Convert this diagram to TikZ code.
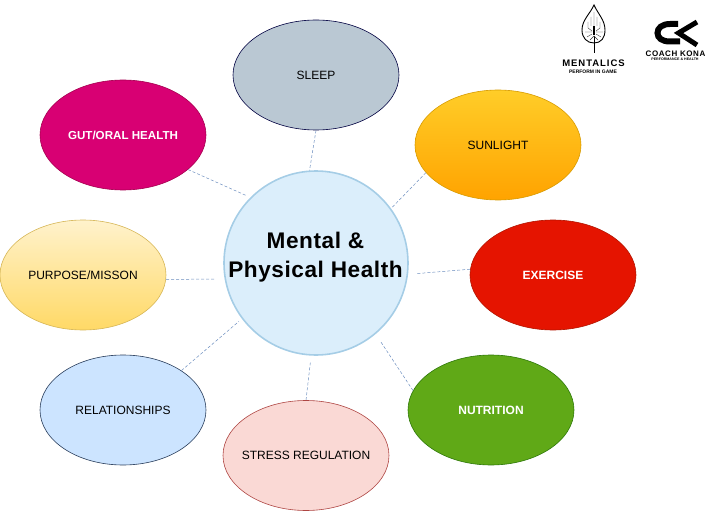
\documentclass[tikz,border=0pt]{standalone}
\usepackage{fontspec}
\setmainfont{Liberation Sans}
\newfontfamily\hubfamily[LetterSpace=2.5]{Liberation Sans}
\newfontfamily\logofamily[LetterSpace=10]{Liberation Sans}
\newfontfamily\coachfamily[LetterSpace=7]{Liberation Sans}
\usetikzlibrary{shapes.geometric}
\definecolor{linkblue}{HTML}{6C8EBF}
\definecolor{hubedge}{HTML}{A5CDE6}
\definecolor{hubfill}{HTML}{DBEEFB}
\tikzset{
  blob/.style={ellipse,draw,minimum width=166pt,minimum height=110pt,inner xsep=-30pt,inner ysep=0pt,line width=0.6pt,font=\fontsize{12}{14}\selectfont,text=black},
  whitelabel/.style={text=white,font=\fontsize{12}{14}\selectfont\bfseries},
  link/.style={draw=linkblue,densely dashed,line width=0.5pt},
  hubnode/.style={circle,draw=hubedge,fill=hubfill,minimum size=184pt,inner sep=0pt,line width=1.6pt},
  hubtext/.style={align=center,inner sep=0pt,font=\hubfamily\fontsize{22.6}{29}\selectfont\bfseries},
  logoline/.style={line width=0.9pt,draw=black},
  trace/.style={line width=0.4pt,draw=black!80},
}
\begin{document}
\begin{tikzpicture}[x=1pt,y=-1pt]
\useasboundingbox (0,0) rectangle (716,511);
\node[hubnode] (hub) at (316,263) {};
\node[hubtext] (hublabel) at (315.5,257) {Mental \&\\Physical Health};
\node[blob,draw=black!75!blue,fill={rgb,255:red,186;green,200;blue,211}] (sleep) at (316,75) {SLEEP};
\node[blob,draw={rgb,255:red,215;green,155;blue,0},top color={rgb,255:red,255;green,205;blue,40},bottom color={rgb,255:red,255;green,163;blue,0}] (sun) at (498,145) {SUNLIGHT};
\node[blob,draw={rgb,255:red,178;green,20;blue,0},fill={rgb,255:red,229;green,20;blue,0},whitelabel] (exercise) at (553,275) {EXERCISE};
\node[blob,draw={rgb,255:red,45;green,120;blue,8},fill={rgb,255:red,96;green,169;blue,23},whitelabel] (nutrition) at (491,410) {NUTRITION};
\node[blob,draw={rgb,255:red,174;green,69;blue,66},fill={rgb,255:red,250;green,217;blue,213}] (stress) at (306,455.5) {STRESS REGULATION};
\node[blob,draw={rgb,255:red,40;green,60;blue,90},fill={rgb,255:red,204;green,228;blue,255}] (rel) at (123,410) {RELATIONSHIPS};
\node[blob,draw={rgb,255:red,214;green,182;blue,86},top color={rgb,255:red,255;green,242;blue,204},bottom color={rgb,255:red,255;green,217;blue,102}] (purpose) at (83,275) {PURPOSE/MISSON};
\node[blob,draw={rgb,255:red,165;green,0;blue,80},fill={rgb,255:red,216;green,0;blue,115},whitelabel,font=\fontsize{11.6}{14}\selectfont\bfseries] (gut) at (123,135) {GUT/ORAL HEALTH};

\draw[link] (sleep.-90) -- (hub.94);
\draw[link] (sun.201) -- (hub.36.5);
\draw[link,shorten >=8.7pt] (exercise.176.5) -- (hub.-7);
\draw[link,shorten >=9pt] (nutrition.166) -- (hub.-50);
\draw[link,shorten >=7pt] (stress.90) -- (hub.-93.5);
\draw[link,shorten >=4pt] (rel.34) -- (hub.217);
\draw[link,shorten >=10pt] (purpose.-3.4) -- (hub.190.8);
\draw[link,shorten >=4pt] (gut.-28) -- (hub.135);

% Mentalics logo
\node[inner sep=0pt,font=\logofamily\fontsize{9.5}{10}\selectfont\bfseries] (mentalics) at (593.5,63.5) {MENTALICS};
\node[inner sep=0pt,font=\fontsize{5}{5}\selectfont\bfseries] (mentalicssub) at (593,72) {PERFORM IN GAME};
\draw[logoline] (594,5) .. controls (590,14) and (582,20) .. (582,30) .. controls (582,38) and (587,43) .. (594,43) .. controls (601,43) and (605,38) .. (605,30) .. controls (605,20) and (598,14) .. (594,5) -- cycle;
\draw[logoline] (594,36) -- (594,53);
\draw[trace] (594,12) -- (594,26) (591,17) -- (591,26) (597,17) -- (597,26) (588,22) -- (588,28) -- (592,31) (600,22) -- (600,28) -- (596,31) (585,32) -- (592,32) (603,32) -- (596,32) (587,37) -- (592,34) (601,37) -- (596,34) (590,40) -- (594,36) -- (598,40);
\fill (592.6,26) rectangle (595.4,35);
% Coach Kona logo
\node[inner sep=0pt,font=\coachfamily\fontsize{8}{9}\selectfont\bfseries] (coach) at (675.5,53.5) {COACH KONA};
\node[inner sep=0pt,font=\fontsize{3.6}{4}\selectfont\bfseries] (coachsub) at (675,59) {PERFORMANCE \& HEALTH};
\draw[line width=6pt] (678,24) -- (670,24) .. controls (662,24) and (657.5,28) .. (657.5,33) .. controls (657.5,38) and (662,41.5) .. (670,41.5) -- (680,41.5);
\draw[line width=5pt,miter limit=10] (697,22) -- (678.5,33) -- (697,45);
\end{tikzpicture}
\end{document}
